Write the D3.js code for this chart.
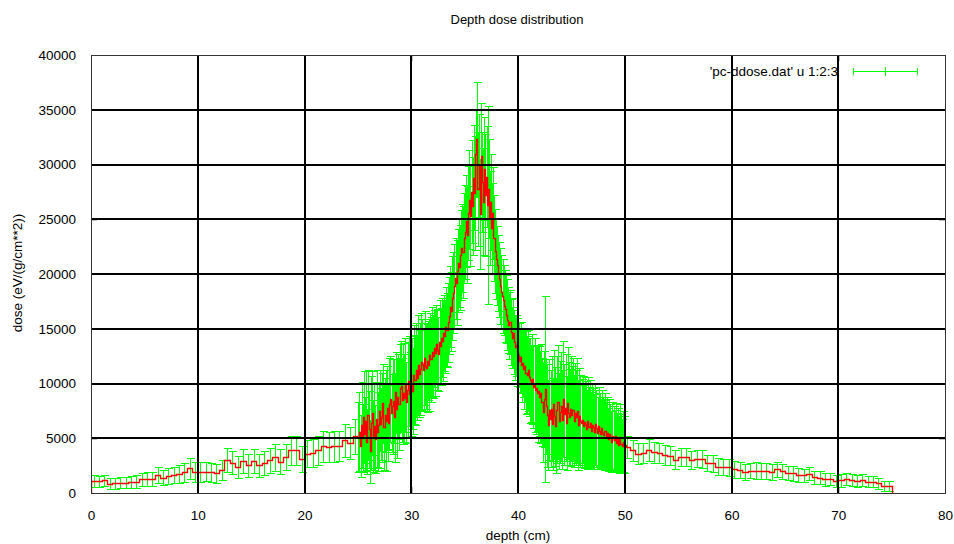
<!DOCTYPE html>
<html>
<head>
<meta charset="utf-8">
<script src="https://cdn.jsdelivr.net/npm/d3@7"></script>
<style>
  body { margin: 0; background: #fff; }
  text { font-family: "Liberation Sans", Arial, sans-serif; fill: #000; }
</style>
</head>
<body>
<div id="chart"></div>
<script>
// depth dose data: dose and error per depth bin
// 0 - 25 cm, bins 0.5 cm wide
const lowDose = [1100, 1080, 1150, 850, 900, 950, 950, 1000, 1050, 1250,
  1300, 1250, 1650, 1400, 1550, 1650, 1750, 1900, 2250, 1950,
  1950, 1950, 1900, 1800, 2100, 3000, 2750, 2350, 2950, 2550,
  2950, 2550, 2750, 3000, 3250, 2850, 3300, 3900, 3900, 3100,
  3600, 3650, 3900, 4250, 4200, 4250, 4300, 4800, 4600, 5200];
const lowErr = [550, 500, 520, 480, 500, 480, 500, 520, 560, 600,
  620, 640, 700, 700, 740, 760, 820, 880, 950, 900,
  900, 880, 860, 850, 900, 1100, 1050, 1000, 1100, 1050,
  1100, 1050, 1100, 1150, 1200, 1150, 1200, 1350, 1300, 1200,
  1250, 1250, 1300, 1400, 1350, 1400, 1400, 1500, 1450, 1600];

// 25 - 50 cm, bins 0.1 cm wide
const midDose = [
  5100, 5600, 4300, 6200, 5000, 6900, 5400, 6600, 4700, 7100,
  5800, 3800, 6400, 7300, 5200, 6100, 4900, 6800, 5600, 6200,
  7500, 6300, 6900, 8200, 6000, 7100, 6600, 7800, 6400, 8100,
  8600, 7300, 7900, 8400, 6900, 9200, 7700, 8800, 8100, 9600,
  9800, 8500, 9100, 8700, 9900, 8300, 9400, 10200, 9000, 9700,
  10000, 9300, 10800, 10300, 11200, 10500, 11700, 10900, 11300, 12000,
  11800, 11200, 12300, 11600, 11400, 12100, 11700, 12600, 12200, 12900,
  12500, 13200, 12800, 13600, 13100, 12700, 13800, 13400, 14200, 13900,
  14600, 14300, 15200, 14900, 15600, 16200, 17000, 16600, 17800, 18300,
  18900, 19600, 19200, 20300, 21000, 20600, 21700, 22400, 22000, 23300,
  23800, 24800, 23600, 25600, 26800, 25300, 27500, 26200, 28800, 27400,
  31000, 32300, 27800, 29900, 25500, 30800, 28400, 26600, 29600, 27200,
  28900, 26300, 27800, 25100, 26600, 24200, 25600, 23300, 22100, 21400,
  20800, 20100, 19500, 18900, 18400, 18000, 17600, 17100, 16800, 16300,
  15800, 15300, 15600, 14700, 14200, 14600, 13800, 13300, 13500, 12900,
  12600, 12100, 12400, 11700, 11900, 11300, 11600, 11000, 10800, 11200,
  10600, 10300, 10000, 10400, 9700, 9900, 9400, 9600, 9100, 9300,
  8800, 9100, 8300, 7400, 8600, 9500, 7900, 7100, 6200, 7600,
  6800, 7700, 6300, 8100, 7000, 6100, 7600, 8300, 6600, 7400,
  7900, 6700, 8600, 7200, 7800, 6400, 8200, 7300, 6900, 7700,
  7100, 7600, 6600, 7300, 6900, 7500, 6200, 7000, 6600, 6400,
  6700, 6100, 6500, 6300, 5800, 6600, 6000, 6400, 5700, 6200,
  6000, 5600, 6300, 5900, 5500, 6100, 5700, 5400, 5900, 5500,
  5300, 5700, 5200, 5500, 4900, 5400, 5100, 4700, 5200, 5000,
  4800, 5200, 4600, 4900, 4400, 5100, 4500, 4300, 4700, 4400];
const midErr = [
  3200, 3600, 2800, 3900, 3100, 4200, 3400, 4500, 3000, 4100,
  3500, 2900, 4300, 3800, 3300, 4000, 3100, 4400, 3600, 3900,
  3700, 3300, 4100, 3600, 3900, 3400, 4600, 3800, 3500, 4200,
  3900, 3600, 4300, 3800, 4100, 3700, 4500, 3900, 4200, 4000,
  4100, 3800, 4600, 4000, 4300, 3700, 4400, 4100, 3900, 4500,
  4200, 3900, 4500, 4100, 4300, 3800, 4600, 4000, 4200, 4400,
  4100, 3700, 4300, 3900, 4000, 3600, 4200, 3800, 3900, 4100,
  3800, 3500, 3900, 3600, 3700, 3400, 3800, 3500, 3600, 3700,
  3500, 3300, 3600, 3400, 3600, 3500, 3700, 3600, 3800, 3700,
  3800, 3700, 3900, 3800, 4000, 3900, 4100, 4000, 4200, 4100,
  4300, 4200, 4400, 4300, 4500, 4600, 4700, 4500, 4800, 5200,
  4000, 5200, 5200, 4700, 5000, 4800, 4600, 4900, 4700, 5600,
  4600, 9000, 4500, 4300, 4400, 4100, 4200, 3900, 3800, 3700,
  3600, 3500, 3400, 3500, 3300, 3400, 3200, 3300, 3100, 3200,
  3000, 3100, 2900, 3000, 2800, 3200, 2900, 3000, 2800, 3100,
  2900, 3000, 3200, 3400, 3100, 3600, 3300, 3800, 3500, 3700,
  3600, 3900, 3500, 4100, 3800, 4300, 4000, 3900, 4400, 4100,
  4200, 4500, 4000, 4600, 4400, 8500, 4300, 4700, 4100, 4600,
  4400, 4800, 4200, 5000, 4500, 4300, 4900, 5200, 4400, 4700,
  5000, 4500, 5300, 4600, 4900, 4300, 5100, 4700, 4400, 4800,
  4500, 4700, 4200, 4600, 4300, 4800, 4100, 4400, 4200, 4000,
  4000, 3800, 4100, 3900, 3600, 4000, 3700, 3900, 3500, 3800,
  3600, 3400, 3700, 3500, 3300, 3600, 3400, 3200, 3500, 3300,
  3200, 3400, 3100, 3300, 2900, 3200, 3000, 2800, 3100, 2900,
  2800, 3000, 2700, 2900, 2600, 3000, 2700, 2500, 2800, 2600];

// 50 - 75 cm, bins 0.5 cm wide
const highDose = [4200, 3900, 3600, 3650, 3900, 3700, 3650, 3450, 3400, 3050,
  3300, 3300, 3000, 3150, 3100, 2750, 2700, 2400, 2350, 2350,
  2150, 2100, 1950, 2050, 2050, 2000, 2000, 1950, 2150, 2000,
  1800, 1800, 1650, 1600, 1750, 1450, 1400, 1250, 1250, 1100,
  1150, 1250, 1200, 1100, 1200, 1050, 1050, 900, 650, 650];
const highErr = [1000, 950, 950, 900, 1000, 950, 900, 900, 850, 900,
  850, 850, 800, 800, 850, 750, 800, 800, 750, 800,
  750, 760, 740, 720, 740, 720, 700, 720, 700, 680,
  650, 660, 620, 620, 600, 600, 580, 580, 560, 580,
  560, 560, 540, 540, 520, 540, 520, 500, 480, 480];

// bin layout: [start, width, doses, errors]
const segments = [
  [0, 0.5, lowDose, lowErr],
  [25, 0.1, midDose, midErr],
  [50, 0.5, highDose, highErr]
];

const xTicks = [0, 10, 20, 30, 40, 50, 60, 70, 80];
const yTicks = [0, 5000, 10000, 15000, 20000, 25000, 30000, 35000, 40000];

const points = [];
segments.forEach(([start, w, dose, err]) => {
  dose.forEach((v, i) => {
    points.push({ depth: start + w * (i + 0.5), dose: v, err: err[i] });
  });
});

const W = 954, H = 544;
const margin = { top: 55, right: 9, bottom: 51, left: 91 };
const GREEN = "#00ff00", RED = "#ff0000";

const svg = d3.select("#chart").append("svg")
  .attr("width", W)
  .attr("height", H);

const x = d3.scaleLinear().domain([0, 80]).range([margin.left, W - margin.right]);
const y = d3.scaleLinear().domain([0, 40000]).range([H - margin.bottom, margin.top]);
const px = v => Math.round(v) + 0.5;

svg.append("clipPath").attr("id", "plot")
  .append("rect")
  .attr("x", margin.left).attr("y", margin.top)
  .attr("width", x(80) - x(0)).attr("height", y(0) - y(40000));

const plot = svg.append("g").attr("clip-path", "url(#plot)");

// error bars
const cap = 4;
plot.append("g")
  .selectAll("path")
  .data(points)
  .join("path")
  .attr("fill", "none")
  .attr("stroke", GREEN)
  .attr("stroke-width", 1)
  .attr("shape-rendering", "crispEdges")
  .attr("d", d => {
    const cx = px(x(d.depth));
    const y1 = px(y(d.dose - d.err)), y2 = px(y(d.dose + d.err));
    return `M${cx},${y1}V${y2}M${cx - cap},${y1}H${cx + cap}M${cx - cap},${y2}H${cx + cap}`;
  });

// histogram steps
const stepPts = [];
points.forEach((d, i) => {
  const prev = points[i - 1], next = points[i + 1];
  const left = prev ? (prev.depth + d.depth) / 2 : d.depth - (next.depth - d.depth) / 2;
  const right = next ? (d.depth + next.depth) / 2 : d.depth + (d.depth - prev.depth) / 2;
  if (!prev) stepPts.push([left, 0]);
  stepPts.push([left, d.dose], [right, d.dose]);
  if (!next) stepPts.push([right, 0]);
});
plot.append("path")
  .datum(stepPts)
  .attr("fill", "none")
  .attr("stroke", RED)
  .attr("stroke-width", 1.4)
  .attr("stroke-linejoin", "miter")
  .attr("d", d3.line().x(d => px(x(d[0]))).y(d => px(y(d[1]))));

// legend
svg.append("text")
  .attr("x", 838).attr("y", 76)
  .attr("text-anchor", "end")
  .style("font-size", "13.5px")
  .text("'pc-ddose.dat' u 1:2:3");
const lg = svg.append("g");
lg.append("path")
  .attr("fill", "none")
  .attr("stroke", GREEN)
  .attr("stroke-width", 1)
  .attr("shape-rendering", "crispEdges")
  .attr("d", "M853,71.5H917.5M853.5,68V75M885.5,67V76M917.5,68V75");

// grid drawn in front
const grid = svg.append("g").attr("stroke", "#000").attr("stroke-width", 2);
grid.selectAll(".vg").data(xTicks.slice(1, -1)).join("line")
  .attr("x1", d => Math.round(x(d))).attr("x2", d => Math.round(x(d)))
  .attr("y1", y(40000)).attr("y2", y(0));
grid.selectAll(".hg").data(yTicks.slice(1, -1)).join("line")
  .attr("x1", x(0)).attr("x2", x(80))
  .attr("y1", d => Math.round(y(d))).attr("y2", d => Math.round(y(d)));

// axes with mirror ticks
const fmt = d3.format("d");
const axisStyle = g => {
  g.select(".domain").remove();
  g.selectAll("line").attr("stroke", "#000");
  g.selectAll("text").style("font-size", "13.5px").attr("fill", "#222");
};
svg.append("g")
  .attr("transform", `translate(0,${y(0)})`)
  .call(d3.axisBottom(x).tickValues(xTicks).tickFormat(fmt).tickSizeInner(-6).tickPadding(17))
  .call(axisStyle);
svg.append("g")
  .attr("transform", `translate(${x(0)},0)`)
  .call(d3.axisLeft(y).tickValues(yTicks).tickFormat(fmt).tickSizeInner(-6).tickPadding(15))
  .call(axisStyle);
svg.append("g")
  .attr("transform", `translate(${x(80)},0)`)
  .call(d3.axisRight(y).tickValues(yTicks).tickFormat("").tickSizeInner(-6))
  .call(axisStyle);
svg.append("g")
  .attr("transform", `translate(0,${y(40000)})`)
  .call(d3.axisTop(x).tickValues(xTicks).tickFormat("").tickSizeInner(-6))
  .call(axisStyle);

// frame
svg.append("rect")
  .attr("x", x(0) + 0.5).attr("y", y(40000) + 0.5)
  .attr("width", x(80) - x(0)).attr("height", y(0) - y(40000))
  .attr("fill", "none").attr("stroke", "#333").attr("stroke-width", 1);

// titles
svg.append("text")
  .attr("x", 517).attr("y", 24)
  .attr("text-anchor", "middle")
  .style("font-size", "13px")
  .text("Depth dose distribution");
svg.append("text")
  .attr("x", 518).attr("y", 540)
  .attr("text-anchor", "middle")
  .style("font-size", "13.5px")
  .text("depth (cm)");
svg.append("text")
  .attr("transform", "translate(22,273) rotate(-90)")
  .attr("text-anchor", "middle")
  .style("font-size", "13.5px")
  .text("dose (eV/(g/cm**2))");
</script>
</body>
</html>
